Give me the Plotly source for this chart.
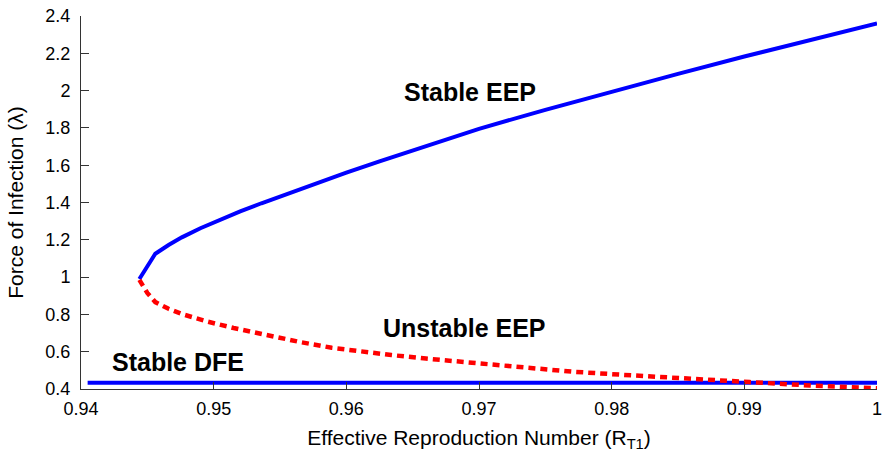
import plotly.graph_objects as go

# Stable endemic equilibrium branch (upper, solid blue)
stable_eep_x = [0.9444, 0.9456, 0.9466, 0.9476, 0.9490, 0.9502, 0.9520, 0.9536,
                0.9560, 0.9580, 0.9600, 0.9625, 0.9650, 0.9675, 0.9700, 0.9750,
                0.9800, 0.9850, 0.9900, 0.9950, 1.0000]
stable_eep_y = [0.99, 1.125, 1.172, 1.213, 1.262, 1.300, 1.352, 1.396,
                1.459, 1.510, 1.560, 1.621, 1.680, 1.738, 1.795, 1.897,
                1.995, 2.090, 2.183, 2.273, 2.360]

# Unstable endemic equilibrium branch (lower, dotted red)
unstable_eep_x = [0.9444, 0.9450, 0.9456, 0.9466, 0.9476, 0.9495, 0.9515, 0.9540,
                  0.9565, 0.9589, 0.9610, 0.9634, 0.9660, 0.9686, 0.9710, 0.9736,
                  0.9770, 0.9806, 0.9830, 0.9859, 0.9904, 0.9949, 1.0000]
unstable_eep_y = [0.985, 0.915, 0.866, 0.830, 0.802, 0.762, 0.727, 0.688,
                  0.652, 0.621, 0.600, 0.582, 0.563, 0.546, 0.528, 0.511,
                  0.493, 0.477, 0.466, 0.453, 0.437, 0.419, 0.404]

# Disease-free equilibrium (flat, solid blue)
dfe_x = [0.9405, 1.0000]
dfe_y = [0.434, 0.434]

x_ticks = [0.94, 0.95, 0.96, 0.97, 0.98, 0.99, 1.0]
x_tick_labels = ["0.94", "0.95", "0.96", "0.97", "0.98", "0.99", "1"]
y_ticks = [0.4, 0.6, 0.8, 1.0, 1.2, 1.4, 1.6, 1.8, 2.0, 2.2, 2.4]
y_tick_labels = ["0.4", "0.6", "0.8", "1", "1.2", "1.4", "1.6", "1.8", "2", "2.2", "2.4"]

labels = ["Stable EEP", "Unstable EEP", "Stable DFE"]
label_x = [0.9693, 0.9689, 0.9473]
label_y = [1.995, 0.726, 0.544]

BLUE = "#0000ff"
RED = "#ff0000"
FONT = "Liberation Sans, Arial, Helvetica, sans-serif"

fig = go.Figure()
fig.add_trace(go.Scatter(x=dfe_x, y=dfe_y, mode="lines",
                         line=dict(color=BLUE, width=4), showlegend=False))
fig.add_trace(go.Scatter(x=stable_eep_x, y=stable_eep_y, mode="lines",
                         line=dict(color=BLUE, width=4), showlegend=False))
fig.add_trace(go.Scatter(x=unstable_eep_x, y=unstable_eep_y, mode="lines",
                         line=dict(color=RED, width=4.5, dash="7px,5px"),
                         showlegend=False))

for t, x, y in zip(labels, label_x, label_y):
    fig.add_annotation(x=x, y=y, text="<b>%s</b>" % t, showarrow=False,
                       font=dict(family=FONT, size=25, color="black"))

fig.update_layout(
    width=888, height=459,
    margin=dict(l=81, r=6, t=15, b=70),
    paper_bgcolor="white", plot_bgcolor="white",
    font=dict(family=FONT, color="black"),
    xaxis=dict(
        range=[0.94, 1.0], tickvals=x_ticks, ticktext=x_tick_labels,
        showgrid=False, zeroline=False, showline=True, linecolor="#333333", linewidth=1,
        ticks="inside", ticklen=7, tickcolor="#333333", tickwidth=1,
        tickfont=dict(size=18, family=FONT, color="black"),
        ticklabelstandoff=3,
        title=dict(text="Effective Reproduction Number (R<sub>T1</sub>)",
                   font=dict(size=21, family=FONT, color="black"), standoff=12),
    ),
    yaxis=dict(
        range=[0.4, 2.4], tickvals=y_ticks, ticktext=y_tick_labels,
        showgrid=False, zeroline=False, showline=True, linecolor="#333333", linewidth=1,
        ticks="inside", ticklen=8, tickcolor="#333333", tickwidth=1,
        tickfont=dict(size=18, family=FONT, color="black"),
        ticklabelstandoff=6,
        title=dict(text="Force of Infection (λ)",
                   font=dict(size=21, family=FONT, color="black"), standoff=16),
    ),
)

fig.write_html("out.html")
